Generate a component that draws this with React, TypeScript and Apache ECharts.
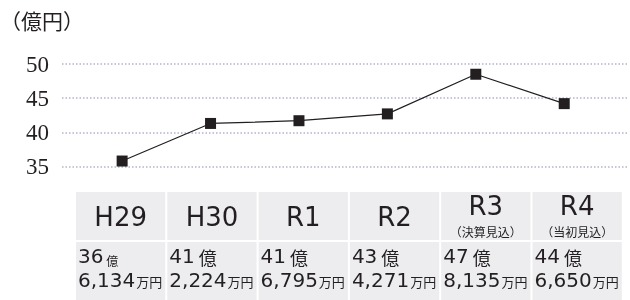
import React, { useEffect, useRef } from 'react';
import * as echarts from 'echarts';

const categories = ['H29', 'H30', 'R1', 'R2', 'R3', 'R4'];
const subLabels = ['', '', '', '', '（決算見込）', '（当初見込）'];
const plotValues = [35.8, 41.3, 41.7, 42.7, 48.5, 44.2];
const okuValues = [36, 41, 41, 43, 47, 44];
const manValues = [6134, 2224, 6795, 4271, 8135, 6650];
const yTicks = [35, 40, 45, 50];
const unitTitle = '（億円）';

const INK = '#231f20';
const CELL = '#ededf0';
const SANS = 'DejaVu Sans';
const CJK = 'Noto Sans CJK JP';
const SERIF = 'Liberation Serif';

export default function App() {
  const ref = useRef<HTMLDivElement>(null);
  useEffect(() => {
    if (!ref.current) return;
    const chart = echarts.init(ref.current, undefined, { renderer: 'svg' });
    const tableLeft = 76;
    const colStep = 91.3;
    const gap = 2;
    const headTop = 192;
    const headH = 48;
    const rowTop = headTop + headH + gap;
    const rowH = 300 - rowTop;
    const graphics: any[] = [];
    graphics.push({
      type: 'text',
      x: 0,
      y: 20,
      style: { text: unitTitle, fill: INK, font: `21px ${CJK}`, verticalAlign: 'middle' },
    });
    categories.forEach((c, i) => {
      const x0 = tableLeft + i * colStep;
      const w = colStep - gap;
      graphics.push({ type: 'rect', shape: { x: x0, y: headTop, width: w, height: headH }, style: { fill: CELL } });
      graphics.push({ type: 'rect', shape: { x: x0, y: rowTop, width: w, height: rowH }, style: { fill: CELL } });
      const hasSub = subLabels[i] !== '';
      graphics.push({
        type: 'text',
        x: x0 + w / 2,
        y: hasSub ? 206 : 217,
        style: { text: c, fill: INK, fontSize: 26, fontFamily: SANS, align: 'center', verticalAlign: 'middle' },
      });
      if (hasSub) {
        graphics.push({
          type: 'text',
          x: x0 + w / 2,
          y: 231,
          style: { text: subLabels[i], fill: INK, fontSize: 12, fontFamily: CJK, align: 'center', verticalAlign: 'middle' },
        });
      }
      const smallOku = i === 0;
      graphics.push({
        type: 'text',
        x: x0 + 2,
        y: 256,
        style: {
          text: `{n|${okuValues[i]}}{u| 億}`,
          fill: INK,
          align: 'left',
          verticalAlign: 'middle',
          rich: {
            n: { fontSize: 20, fontFamily: SANS, fill: INK, lineHeight: 20, verticalAlign: 'bottom' },
            u: { fontSize: smallOku ? 12 : 18, fontFamily: CJK, fill: INK, lineHeight: 20, verticalAlign: 'bottom' },
          },
        },
      });
      graphics.push({
        type: 'text',
        x: x0 + 2,
        y: 280,
        style: {
          text: `{n|${manValues[i].toLocaleString('en-US')}}{u|万円}`,
          fill: INK,
          align: 'left',
          verticalAlign: 'middle',
          rich: {
            n: { fontSize: 20, fontFamily: SANS, fill: INK, lineHeight: 20, verticalAlign: 'bottom' },
            u: { fontSize: 13, fontFamily: CJK, fill: INK, lineHeight: 20, verticalAlign: 'bottom', padding: [0, 0, 2, 1] },
          },
        },
      });
    });

    chart.setOption({
      animation: false,
      textStyle: { fontFamily: SERIF },
      grid: { left: 62, right: 3, top: 64, bottom: 133.5 },
      xAxis: { type: 'value', min: -0.68, max: 5.71, show: false },
      yAxis: {
        type: 'value',
        min: yTicks[0],
        max: yTicks[yTicks.length - 1],
        interval: 5,
        axisLine: { show: false },
        axisTick: { show: false },
        axisLabel: {
          color: INK,
          fontSize: 23,
          fontFamily: SERIF,
          margin: 13,
          formatter: (v: number) => `{s|${v}}`,
          rich: { s: { fontSize: 23, fontFamily: SERIF, color: INK } },
        },
        splitLine: { lineStyle: { color: '#b3b3cf', width: 1.5, type: [1.5, 2] } },
      },
      series: [
        {
          type: 'line',
          data: plotValues.map((v, i) => [i, v]),
          symbol: 'rect',
          symbolSize: 11,
          itemStyle: { color: INK },
          lineStyle: { color: INK, width: 1.2 },
        },
      ],
      graphic: graphics,
    });
    return () => chart.dispose();
  }, []);
  return <div ref={ref} style={{ position: 'fixed', left: 0, top: 0, width: 630, height: 300 }} />;
}
